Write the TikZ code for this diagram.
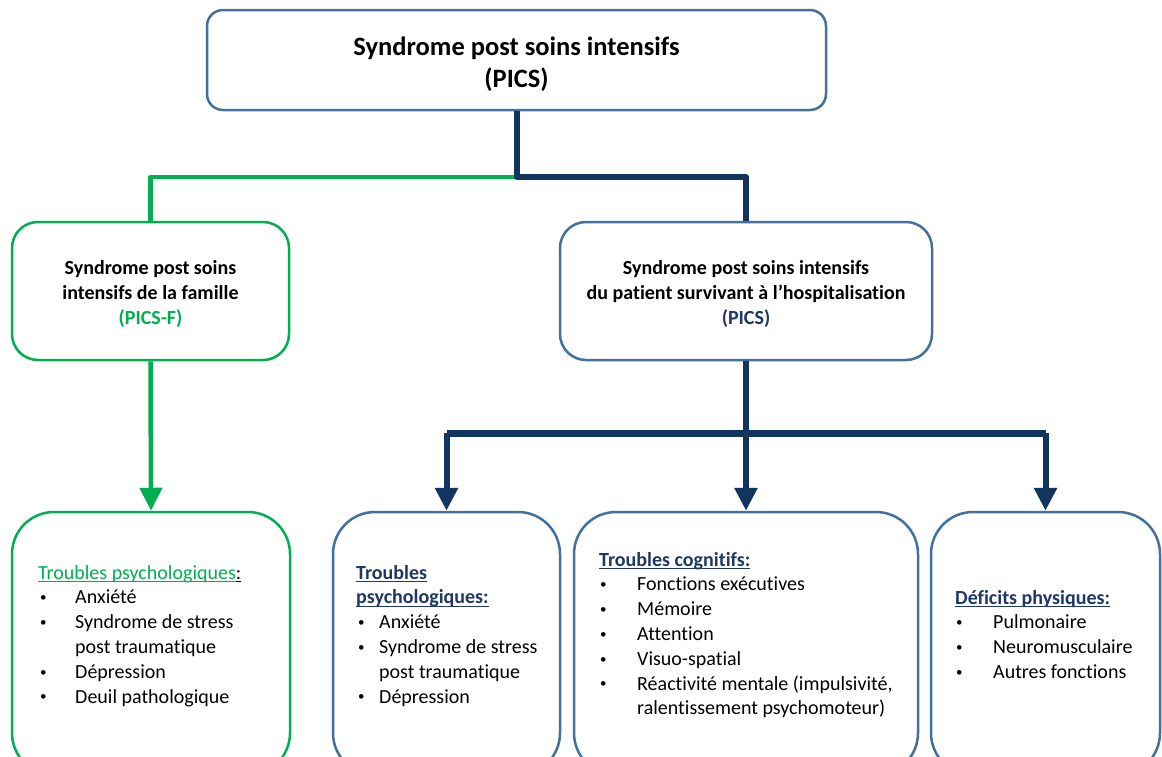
\documentclass[tikz,border=0pt]{standalone}
\usepackage{fontspec}
\setmainfont{Carlito}[Ligatures=NoCommon]
\usetikzlibrary{arrows.meta}
\definecolor{pgreen}{HTML}{00B050}
\definecolor{pnavy}{HTML}{11355E}
\definecolor{pblue}{HTML}{41719C}
\definecolor{ptext}{HTML}{1F3864}
\newcommand\myul[1]{\setbox0\hbox{#1}\rlap{\rule[-3pt]{\wd0}{1.2pt}}\box0}
\newcommand\smbul{\raisebox{2.2pt}{\fontsize{13}{13}\selectfont •}}
\newcommand\bulA{\makebox[37pt][l]{\hspace*{2pt}\smbul}}
\newcommand\bulB{\makebox[23pt][l]{\hspace*{2pt}\smbul}}
\newcommand\bulC{\makebox[38pt][l]{\hspace*{1pt}\smbul}}
\begin{document}
\begin{tikzpicture}[x=1pt,y=-1pt,
  bluebox/.style={draw=pblue, line width=2.5pt, fill=white, inner sep=0pt},
  greenbox/.style={draw=pgreen, line width=2.5pt, fill=white, inner sep=0pt},
  listtxt/.style={anchor=north west, inner sep=0pt, align=left, font=\fontsize{20}{24.8}\selectfont},
  midtxt/.style={anchor=north, inner sep=0pt, align=center, font=\bfseries\fontsize{20}{25}\selectfont},
  gline/.style={draw=pgreen, line width=4.5pt, line join=round},
  nline/.style={draw=pnavy, line width=6pt, line join=round},
  garrow/.style={gline, -{Triangle[width=22pt,length=23pt]}},
  narrow/.style={nline, -{Triangle[width=22pt,length=23pt]}}
]
\clip (0,0) rectangle (1162,756);
\fill[white] (0,0) rectangle (1162,756);

% boxes
\node[bluebox, rounded corners=16pt, minimum width=619pt, minimum height=100pt] (top) at (516.5,60) {};
\node[greenbox, rounded corners=26pt, minimum width=277pt, minimum height=138pt] (midL) at (150.5,291) {};
\node[bluebox, rounded corners=26pt, minimum width=372pt, minimum height=138pt] (midR) at (746,291) {};
\node[greenbox, rounded corners=42pt, minimum width=278pt, minimum height=263pt] (b1) at (151,643.5) {};
\node[bluebox, rounded corners=42pt, minimum width=227pt, minimum height=263pt] (b2) at (446.5,643.5) {};
\node[bluebox, rounded corners=42pt, minimum width=344pt, minimum height=263pt] (b3) at (746,643.5) {};
\node[bluebox, rounded corners=42pt, minimum width=229pt, minimum height=263pt] (b4) at (1045.5,643.5) {};

% texts
\node[anchor=north, inner sep=0pt, align=center, font=\bfseries\fontsize{26.5}{32}\selectfont] (toptxt) at (516.5,32.6)
  {\strut Syndrome post soins intensifs\\(PICS)};
\node[midtxt] (midLtxt) at (150.5,256.5)
  {\strut Syndrome post soins\\intensifs de la famille\\\textcolor{pgreen}{(PICS-F)}};
\node[midtxt] (midRtxt) at (746,256.5)
  {\strut Syndrome post soins intensifs\\du patient survivant à l’hospitalisation\\\textcolor{ptext}{(PICS)}};

\node[listtxt] (b1txt) at (38,561.5)
  {\strut\textcolor{pgreen}{\myul{Troubles psychologiques}}\myul{:}\\
   \bulA Anxiété\\
   \bulA Syndrome de stress\\
   \hspace*{37pt}post traumatique\\
   \bulA Dépression\\
   \bulA Deuil pathologique};
\node[listtxt] (b2txt) at (356,561.5)
  {\strut\textcolor{ptext}{\bfseries\myul{Troubles}}\\
   \textcolor{ptext}{\bfseries\myul{psychologiques:}}\\
   \bulB Anxiété\\
   \bulB Syndrome de stress\\
   \hspace*{23pt}post traumatique\\
   \bulB Dépression};
\node[listtxt] (b3txt) at (599,548.5)
  {\strut\textcolor{ptext}{\bfseries\myul{Troubles cognitifs:}}\\
   \bulC Fonctions exécutives\\
   \bulC Mémoire\\
   \bulC Attention\\
   \bulC Visuo-spatial\\
   \bulC Réactivité mentale (impulsivité,\\
   \hspace*{38pt}ralentissement psychomoteur)};
\node[listtxt] (b4txt) at (955,586.5)
  {\strut\textcolor{ptext}{\bfseries\myul{Déficits physiques:}}\\
   \bulC Pulmonaire\\
   \bulC Neuromusculaire\\
   \bulC Autres fonctions};

% connectors
\coordinate (j1) at (516.5,177);
\draw[gline] (j1) -| (midL.north);
\draw[nline] (top.south) -- (j1) -| (midR.north);
\draw[garrow] (midL.south) -- (b1.north);
\coordinate (j2) at (746,433);
\draw[nline, line width=7pt] (b2.north |- j2) -- (b4.north |- j2);
\draw[narrow] (midR.south) -- (b3.north);
\draw[narrow] (b2.north |- j2) -- (b2.north);
\draw[narrow] (b4.north |- j2) -- (b4.north);
\end{tikzpicture}
\end{document}
